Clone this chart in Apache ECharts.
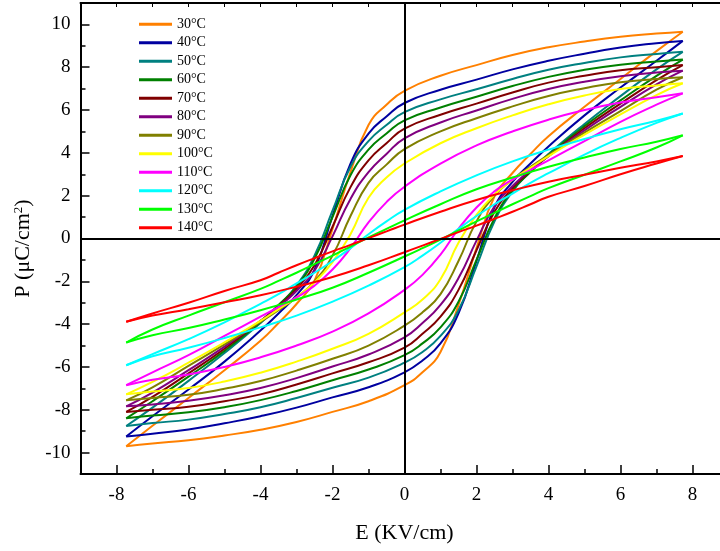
<!DOCTYPE html>
<html>
<head>
<meta charset="utf-8">
<script src="https://cdn.jsdelivr.net/npm/echarts@6/dist/echarts.min.js"></script>
<style>
  html, body { margin: 0; padding: 0; background: #fff; }
  #chart { width: 720px; height: 551px; }
</style>
</head>
<body>
<div id="chart"></div>
<script>
// field grid for each branch (KV/cm)
const eDown = [7.73, 7, 6, 5, 4, 3, 2, 1, 0, -0.5, -1, -1.5, -2, -2.5, -3, -3.5, -4, -5, -6, -7, -7.73];
const eUp = [-7.73, -7, -6, -5, -4, -3, -2, -1, 0, 0.5, 1, 1.5, 2, 2.5, 3, 3.5, 4, 5, 6, 7, 7.73];

const temps = ['30°C', '40°C', '50°C', '60°C', '70°C', '80°C', '90°C', '100°C', '110°C', '120°C', '130°C', '140°C'];
const colors = ['#FF8000', '#0000A0', '#008080', '#008000', '#800000', '#800080', '#808000', '#FFFF00', '#FF00FF', '#00FFFF', '#00FF00', '#FF0000'];

// descending branch (from +Emax to -Emax)
const p30d = [9.66, 9.57, 9.42, 9.2, 8.93, 8.57, 8.1, 7.6, 6.9, 6.25, 5.3, 3.1, 0.45, -1.97, -3.06, -3.95, -4.78, -6.15, -7.45, -8.75, -9.7];
const p40d = [9.23, 9.12, 8.92, 8.63, 8.3, 7.9, 7.42, 6.95, 6.33, 5.7, 4.9, 3.5, 1.05, -1.45, -2.65, -3.5, -4.3, -5.75, -7.05, -8.3, -9.25];
const p50d = [8.72, 8.62, 8.46, 8.2, 7.88, 7.45, 6.97, 6.5, 5.9, 5.3, 4.55, 3.35, 1.3, -0.8, -2.2, -3.15, -3.95, -5.35, -6.65, -7.9, -8.76];
const p60d = [8.36, 8.27, 8.12, 7.88, 7.55, 7.12, 6.62, 6.12, 5.52, 4.9, 4.15, 2.95, 1.0, -0.95, -2.25, -3.1, -3.9, -5.25, -6.45, -7.6, -8.4];
const p70d = [8.1, 8.0, 7.86, 7.6, 7.28, 6.82, 6.3, 5.78, 5.13, 4.45, 3.65, 2.4, 0.55, -1.25, -2.35, -3.15, -3.85, -5.15, -6.3, -7.4, -8.1];
const p80d = [7.84, 7.75, 7.58, 7.32, 6.98, 6.52, 5.98, 5.42, 4.68, 3.95, 3.1, 1.85, 0.1, -1.5, -2.45, -3.2, -3.85, -5.05, -6.15, -7.2, -7.84];
const p90d = [7.53, 7.45, 7.3, 7.02, 6.66, 6.17, 5.62, 5.0, 4.17, 3.45, 2.6, 1.05, -0.8, -2.0, -2.75, -3.35, -3.9, -4.95, -5.95, -6.95, -7.56];
const p100d = [7.25, 7.15, 6.98, 6.68, 6.27, 5.75, 5.15, 4.45, 3.5, 2.85, 1.9, 0.2, -1.1, -2.05, -2.75, -3.3, -3.85, -4.85, -5.8, -6.7, -7.28];
const p110d = [6.78, 6.6, 6.35, 6.0, 5.55, 5.0, 4.35, 3.5, 2.42, 1.7, 0.75, -0.45, -1.45, -2.2, -2.75, -3.2, -3.65, -4.55, -5.45, -6.25, -6.85];
const p120d = [5.84, 5.5, 5.1, 4.65, 4.15, 3.6, 2.95, 2.2, 1.34, 0.8, 0.2, -0.45, -1.05, -1.6, -2.1, -2.6, -3.05, -3.92, -4.7, -5.4, -5.92];
const p130d = [4.82, 4.52, 4.18, 3.78, 3.35, 2.85, 2.3, 1.6, 0.85, 0.45, 0.05, -0.38, -0.8, -1.2, -1.6, -1.98, -2.35, -2.98, -3.6, -4.25, -4.86];
const p140d = [3.85, 3.6, 3.3, 2.98, 2.65, 2.25, 1.8, 1.25, 0.65, 0.33, 0.02, -0.3, -0.6, -0.92, -1.25, -1.6, -1.95, -2.45, -3.0, -3.5, -3.89];

// ascending branch (from -Emax to +Emax)
const p30u = [-9.7, -9.57, -9.42, -9.2, -8.93, -8.57, -8.1, -7.6, -6.85, -6.25, -5.3, -3.1, -0.45, 1.97, 3.06, 3.95, 4.78, 6.15, 7.45, 8.75, 9.66];
const p40u = [-9.25, -9.12, -8.92, -8.63, -8.3, -7.9, -7.42, -6.95, -6.25, -5.7, -4.9, -3.5, -1.05, 1.45, 2.65, 3.5, 4.3, 5.75, 7.05, 8.3, 9.23];
const p50u = [-8.76, -8.62, -8.46, -8.2, -7.88, -7.45, -6.97, -6.5, -5.8, -5.3, -4.55, -3.35, -1.3, 0.8, 2.2, 3.15, 3.95, 5.35, 6.65, 7.9, 8.72];
const p60u = [-8.4, -8.27, -8.12, -7.88, -7.55, -7.12, -6.62, -6.12, -5.45, -4.9, -4.15, -2.95, -1.0, 0.95, 2.25, 3.1, 3.9, 5.25, 6.45, 7.6, 8.36];
const p70u = [-8.1, -8.0, -7.86, -7.6, -7.28, -6.82, -6.3, -5.78, -5.1, -4.45, -3.65, -2.4, -0.55, 1.25, 2.35, 3.15, 3.85, 5.15, 6.3, 7.4, 8.1];
const p80u = [-7.84, -7.75, -7.58, -7.32, -6.98, -6.52, -5.98, -5.42, -4.62, -3.95, -3.1, -1.85, -0.1, 1.5, 2.45, 3.2, 3.85, 5.05, 6.15, 7.2, 7.84];
const p90u = [-7.56, -7.45, -7.3, -7.02, -6.66, -6.17, -5.62, -5.0, -4.07, -3.45, -2.6, -1.05, 0.8, 2.0, 2.75, 3.35, 3.9, 4.95, 5.95, 6.95, 7.53];
const p100u = [-7.28, -7.15, -6.98, -6.68, -6.27, -5.75, -5.15, -4.45, -3.45, -2.85, -1.9, -0.2, 1.1, 2.05, 2.75, 3.3, 3.85, 4.85, 5.8, 6.7, 7.25];
const p110u = [-6.85, -6.6, -6.35, -6.0, -5.55, -5.0, -4.35, -3.5, -2.4, -1.7, -0.75, 0.45, 1.45, 2.2, 2.75, 3.2, 3.65, 4.55, 5.45, 6.25, 6.78];
const p120u = [-5.92, -5.5, -5.1, -4.65, -4.15, -3.6, -2.95, -2.2, -1.34, -0.8, -0.2, 0.45, 1.05, 1.6, 2.1, 2.6, 3.05, 3.92, 4.7, 5.4, 5.84];
const p130u = [-4.86, -4.52, -4.18, -3.78, -3.35, -2.85, -2.3, -1.6, -0.84, -0.45, -0.05, 0.38, 0.8, 1.2, 1.6, 1.98, 2.35, 2.98, 3.6, 4.25, 4.82];
const p140u = [-3.89, -3.6, -3.3, -2.98, -2.65, -2.25, -1.8, -1.25, -0.64, -0.33, -0.02, 0.3, 0.6, 0.92, 1.25, 1.6, 1.95, 2.45, 3.0, 3.5, 3.85];

const downP = [p30d, p40d, p50d, p60d, p70d, p80d, p90d, p100d, p110d, p120d, p130d, p140d];
const upP = [p30u, p40u, p50u, p60u, p70u, p80u, p90u, p100u, p110u, p120u, p130u, p140u];

const xMajor = [-8, -6, -4, -2, 0, 2, 4, 6, 8];
const xMinor = [-9, -7, -5, -3, -1, 1, 3, 5, 7, 9];
const xTop = [-8, -7, -6, -5, -4, -3, -2, -1, 0, 1, 2, 3, 4, 5, 6, 7, 8];
const yMajor = [-10, -8, -6, -4, -2, 0, 2, 4, 6, 8, 10];
const yMinor = [-9, -7, -5, -3, -1, 1, 3, 5, 7, 9];

const FONT = 'Liberation Serif';
const chart = echarts.init(document.getElementById('chart'));

const series = [];
temps.forEach((t, i) => {
  [[eDown, downP[i]], [eUp, upP[i]]].forEach(([es, ps]) => {
    series.push({
      name: t,
      type: 'line',
      xAxisIndex: 0,
      yAxisIndex: 0,
      data: es.map((e, j) => [e, ps[j]]),
      smooth: 0.5,
      showSymbol: false,
      symbol: 'none',
      color: colors[i],
      lineStyle: { width: 2, color: colors[i] }
    });
  });
});

// zero cross lines, drawn over the loops
series.push({
  name: 'zero',
  type: 'line',
  xAxisIndex: 0,
  yAxisIndex: 0,
  data: [],
  z: 5,
  silent: true,
  markLine: {
    silent: true,
    symbol: 'none',
    label: { show: false },
    lineStyle: { color: '#000', width: 2, type: 'solid' },
    data: [{ xAxis: 0 }, { yAxis: 0 }]
  }
});

// same box for all grids: main one plus two that only carry extra ticks
const box = { left: 80.5, right: -8.5, top: 3, bottom: 77, outerBoundsMode: 'none' };
const baseX = { type: 'value', min: -9, max: 9, splitLine: { show: false } };
const baseY = { type: 'value', min: -11, max: 11, splitLine: { show: false } };
const tickLine = { color: '#000', width: 1.5 };

const option = {
  animation: false,
  backgroundColor: '#fff',
  grid: [Object.assign({}, box), Object.assign({}, box), Object.assign({}, box)],
  legend: {
    data: temps,
    orient: 'vertical',
    left: 134,
    top: 12.3,
    itemWidth: 33,
    itemHeight: 3,
    itemGap: 4.5,
    icon: 'rect',
    textStyle: { fontFamily: FONT, fontSize: 14, color: '#000', lineHeight: 14 }
  },
  xAxis: [
    Object.assign({}, baseX, {
      gridIndex: 0,
      position: 'bottom',
      name: 'E (KV/cm)',
      nameLocation: 'middle',
      nameGap: 48,
      nameTextStyle: { fontFamily: FONT, fontSize: 22, color: '#000' },
      axisLine: { onZero: false, lineStyle: { color: '#000', width: 2 } },
      axisTick: { inside: true, length: 9, customValues: xMajor, lineStyle: tickLine },
      axisLabel: { customValues: xMajor, margin: 12, fontFamily: FONT, fontSize: 19, color: '#000' }
    }),
    Object.assign({}, baseX, {
      gridIndex: 1,
      position: 'bottom',
      axisLine: { show: false, onZero: false },
      axisTick: { inside: true, length: 5, customValues: xMinor, lineStyle: tickLine },
      axisLabel: { show: false }
    }),
    Object.assign({}, baseX, {
      gridIndex: 2,
      position: 'top',
      axisLine: { onZero: false, lineStyle: { color: '#000', width: 2 } },
      axisTick: { inside: true, length: 4, customValues: xTop, lineStyle: { color: '#000', width: 1 } },
      axisLabel: { show: false }
    })
  ],
  yAxis: [
    Object.assign({}, baseY, {
      gridIndex: 0,
      position: 'left',
      name: 'P (μC/cm{sup|2})',
      nameLocation: 'middle',
      nameGap: 31,
      nameRotate: 90,
      nameTextStyle: {
        fontFamily: FONT, fontSize: 22, color: '#000',
        padding: [0, 20, 0, 0],
        rich: { sup: { fontFamily: FONT, fontSize: 13, color: '#000', verticalAlign: 'top', padding: [0, 0, 6, 0] } }
      },
      axisLine: { onZero: false, lineStyle: { color: '#000', width: 2 } },
      axisTick: { inside: true, length: 9, customValues: yMajor, lineStyle: tickLine },
      axisLabel: { customValues: yMajor, margin: 10, fontFamily: FONT, fontSize: 19, color: '#000' }
    }),
    Object.assign({}, baseY, {
      gridIndex: 1,
      position: 'left',
      axisLine: { show: false, onZero: false },
      axisTick: { inside: true, length: 5, customValues: yMinor, lineStyle: tickLine },
      axisLabel: { show: false }
    }),
    Object.assign({}, baseY, {
      gridIndex: 2,
      position: 'right',
      axisLine: { onZero: false, lineStyle: { color: '#000', width: 2 } },
      axisTick: { show: false },
      axisLabel: { show: false }
    })
  ],
  series: series
};

chart.setOption(option);
</script>
</body>
</html>
